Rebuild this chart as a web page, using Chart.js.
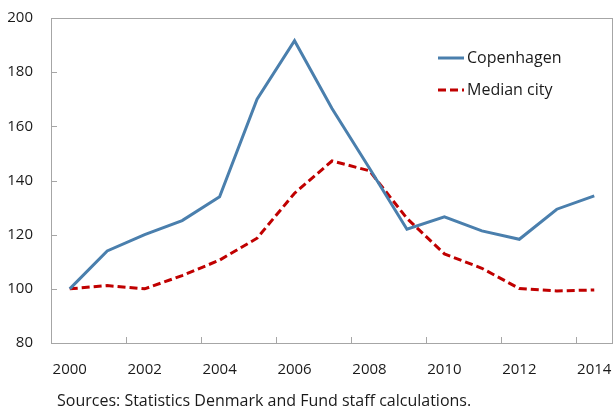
<html lang="en">
  <head>
    <meta charset="utf-8" />
    <title>Copenhagen vs median city</title>
    <style type="text/css">
      * {
        padding: 0;
        margin: 0;
        box-sizing: border-box;
      }
      body {
        background: #ffffff;
      }
      .wrapper {
        position: relative;
        width: 614px;
        height: 408px;
      }
    </style>
  </head>
  <body>
    <div class="wrapper">
      <canvas id="chart"></canvas>
    </div>
    <script src="https://cdn.jsdelivr.net/npm/chart.js@4/dist/chart.umd.min.js"></script>
    <script>
      // data
      const years = ["2000", "2001", "2002", "2003", "2004", "2005", "2006", "2007",
                     "2008", "2009", "2010", "2011", "2012", "2013", "2014"];
      const copenhagen = [100, 114, 120, 125.2, 134, 170, 191.6, 166.6,
                          144.5, 122, 126.6, 121.4, 118.3, 129.4, 134.3];
      const medianCity = [100, 101.2, 100, 104.9, 110.6, 118.7, 135.3, 147.2,
                          143.6, 126, 112.9, 107.6, 100.1, 99.2, 99.6];
      const seriesNames = ["Copenhagen", "Median city"];
      const sourceNote = "Sources: Statistics Denmark and Fund staff calculations.";

      const axisColor = "#a6a6a6";
      const textColor = "#1a1a1a";
      const fontFamily = "'Open Sans', sans-serif";

      // frame, inside tick marks, legend and source line
      const decorations = {
        id: "decorations",
        afterDraw(chart) {
          const { ctx, chartArea: a, scales: { x, y } } = chart;
          ctx.save();
          ctx.strokeStyle = axisColor;
          ctx.lineWidth = 1;
          ctx.strokeRect(Math.round(a.left) + 0.5, Math.round(a.top) + 0.5,
                         Math.round(a.right - a.left) - 1, Math.round(a.bottom - a.top));

          ctx.beginPath();
          y.ticks.forEach(t => {
            const py = Math.round(y.getPixelForValue(t.value)) + 0.5;
            ctx.moveTo(a.left, py);
            ctx.lineTo(a.left + 6, py);
          });
          for (let i = 2; i < years.length; i += 2) {
            const px = Math.round((x.getPixelForValue(i) + x.getPixelForValue(i - 1)) / 2) + 0.5;
            ctx.moveTo(px, a.bottom);
            ctx.lineTo(px, a.bottom - 6);
          }
          ctx.stroke();

          // legend
          ctx.font = "16px " + fontFamily;
          ctx.textBaseline = "middle";
          ctx.fillStyle = textColor;
          chart.data.datasets.forEach((ds, i) => {
            const ly = 58 + i * 32;
            ctx.beginPath();
            ctx.strokeStyle = ds.borderColor;
            ctx.lineWidth = ds.borderWidth;
            ctx.setLineDash(ds.borderDash || []);
            ctx.moveTo(438, ly);
            ctx.lineTo(464, ly);
            ctx.stroke();
            ctx.setLineDash([]);
            ctx.fillText(ds.label, 467, ly);
          });

          // source note
          ctx.font = "16px " + fontFamily;
          ctx.fillText(sourceNote, 57, 401);
          ctx.restore();
        }
      };

      new Chart(document.getElementById("chart"), {
        type: "line",
        data: {
          labels: years,
          datasets: [
            {
              label: seriesNames[0],
              data: copenhagen,
              borderColor: "#4a7fad",
              borderWidth: 3,
              pointRadius: 0,
              tension: 0,
            },
            {
              label: seriesNames[1],
              data: medianCity,
              borderColor: "#c00000",
              borderWidth: 3,
              borderDash: [8, 4],
              pointRadius: 0,
              tension: 0,
            },
          ],
        },
        options: {
          responsive: true,
          maintainAspectRatio: false,
          animation: false,
          layout: { padding: { top: 18, right: 1, bottom: 29, left: 7 } },
          plugins: {
            legend: { display: false },
            tooltip: { enabled: false },
          },
          scales: {
            x: {
              offset: true,
              grid: { display: false, drawTicks: false },
              border: { display: false },
              afterFit: s => {
                s.height = 36;
                s.paddingLeft = 0;
                s.paddingRight = 0;
              },
              ticks: {
                autoSkip: false,
                maxRotation: 0,
                padding: 18,
                color: textColor,
                font: { family: fontFamily, size: 15 },
                callback: (v, i) => (i % 2 === 0 ? years[i] : ""),
              },
            },
            y: {
              min: 80,
              max: 200,
              grid: { display: false, drawTicks: false },
              border: { display: false },
              afterFit: s => {
                s.width = 44;
                s.paddingTop = 9;
                s.paddingBottom = 9;
              },
              ticks: {
                stepSize: 20,
                padding: 18,
                color: textColor,
                font: { family: fontFamily, size: 15 },
              },
            },
          },
        },
        plugins: [decorations],
      });
    </script>
  </body>
</html>
